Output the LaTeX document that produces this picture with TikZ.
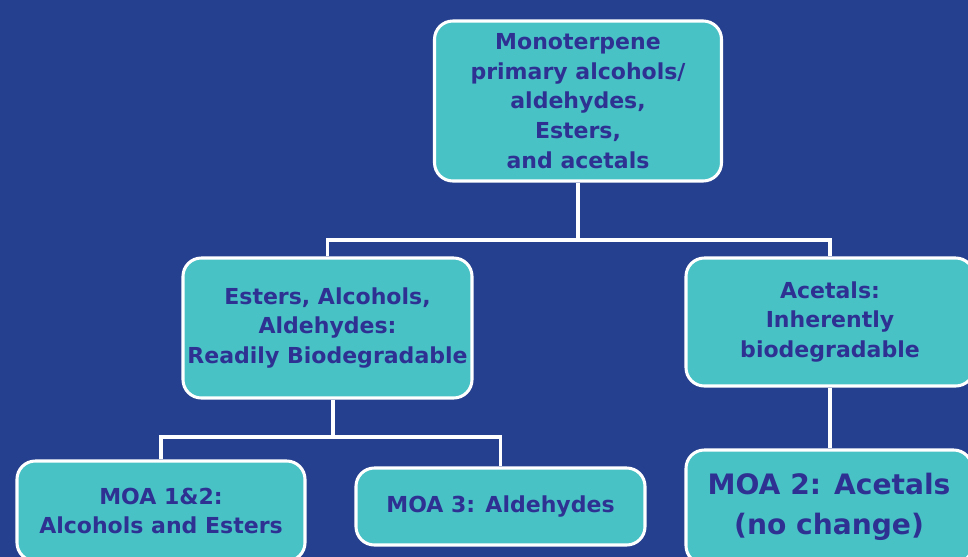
\documentclass[tikz,border=0pt]{standalone}
\usepackage{fontspec}
\setmainfont{DejaVu Sans}
\usepackage{tikz}
\definecolor{bgblue}{RGB}{37,64,142}
\definecolor{boxteal}{RGB}{73,194,198}
\definecolor{txtblue}{RGB}{46,49,146}

\begin{document}
\begin{tikzpicture}[x=0.03cm, y=-0.03cm,
		mybox/.style={draw=white, line width=2.6pt, fill=boxteal, rounded corners=0.55cm, inner sep=0pt, align=center, text=txtblue, font=\bfseries\fontsize{18.8}{25.5}\selectfont},
		myline/.style={draw=white, line width=3.2pt}
	]

	\fill[bgblue] (0,0) rectangle (968,557);
	\useasboundingbox (0,0) rectangle (968,557);
	\clip (0,0) rectangle (968,557);

	\node[mybox, minimum width=8.61cm, minimum height=4.8cm] (mono) at (578,101) {Monoterpene\\primary alcohols/\\aldehydes,\\Esters,\\and acetals};

	\node[mybox, minimum width=8.67cm, minimum height=4.2cm] (esters) at (327.5,328) {Esters, Alcohols,\\Aldehydes:\\Readily Biodegradable};
	\node[mybox, minimum width=8.64cm, minimum height=3.84cm] (acetals) at (830,322) {Acetals:\\Inherently\\biodegradable};

	\node[mybox, minimum width=8.64cm, minimum height=3.0cm] (moaalc) at (161,511) {MOA 1\&2:\\Alcohols and Esters};
	\node[mybox, minimum width=8.67cm, minimum height=2.31cm] (moaald) at (500.5,506.5) {MOA 3: Aldehydes};
	\node[mybox, minimum width=8.58cm, minimum height=3.42cm, font=\bfseries\fontsize{24}{34}\selectfont] (moaacet) at (829,507) {MOA 2: Acetals\\(no change)};

	\coordinate (j1) at (578,240);
	\coordinate (j2) at (333,437);

	\draw[myline] (mono.south) -- (j1);
	\draw[myline] (esters.north) |- (j1) -| (acetals.north);
	\draw[myline] (esters.south -| j2) -- (j2);
	\draw[myline] (moaalc.north) |- (j2) -| (moaald.north);
	\draw[myline] (acetals.south) -- (acetals.south |- moaacet.north);

\end{tikzpicture}
\end{document}
